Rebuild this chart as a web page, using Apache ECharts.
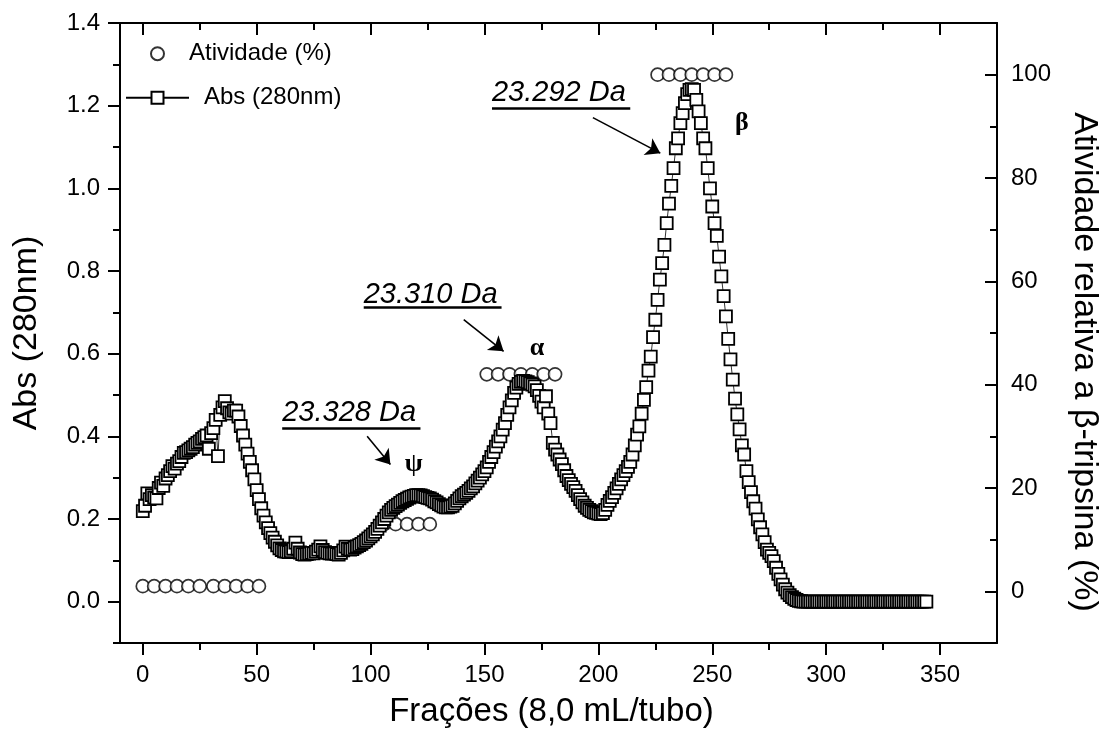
<!DOCTYPE html>
<html>
<head>
<meta charset="utf-8">
<script src="https://cdn.jsdelivr.net/npm/echarts@6/dist/echarts.min.js"></script>
<style>
  html, body { margin: 0; padding: 0; background: #fff; }
  #chart { width: 1104px; height: 737px; }
</style>
</head>
<body>
<div id="chart"></div>
<script>
// Absorbance at 280 nm, one reading per fraction (fraction number = index)
const absorbance = [
  0.219,0.232,0.262,0.248,0.258,0.252,0.250,0.275,0.288,0.280,
  0.298,0.306,0.316,0.328,0.322,0.334,0.340,0.350,0.360,0.362,
  0.366,0.370,0.374,0.380,0.384,0.388,0.394,0.398,0.402,0.370,
  0.408,0.420,0.440,0.352,0.452,0.470,0.485,0.468,0.458,0.455,
  0.462,0.462,0.448,0.425,0.402,0.380,0.358,0.338,0.318,0.296,
  0.270,0.248,0.226,0.208,0.192,0.178,0.166,0.155,0.145,0.136,
  0.129,0.125,0.122,0.121,0.120,0.122,0.128,0.143,0.128,0.119,
  0.115,0.114,0.115,0.116,0.118,0.117,0.121,0.126,0.134,0.125,
  0.120,0.118,0.117,0.116,0.117,0.115,0.114,0.118,0.124,0.133,
  0.128,0.126,0.127,0.131,0.134,0.137,0.140,0.144,0.148,0.153,
  0.158,0.163,0.169,0.176,0.184,0.192,0.200,0.208,0.216,0.222,
  0.227,0.231,0.235,0.239,0.243,0.246,0.249,0.252,0.254,0.256,
  0.258,0.258,0.257,0.255,0.253,0.251,0.250,0.247,0.243,0.240,
  0.236,0.233,0.230,0.228,0.228,0.230,0.232,0.238,0.244,0.250,
  0.255,0.259,0.263,0.268,0.274,0.279,0.286,0.293,0.300,0.308,
  0.316,0.325,0.338,0.350,0.362,0.375,0.388,0.400,0.416,0.432,
  0.452,0.470,0.487,0.505,0.518,0.527,0.532,0.534,0.533,0.531,
  0.528,0.525,0.521,0.512,0.498,0.484,0.470,0.497,0.455,0.432,
  0.384,0.368,0.356,0.344,0.333,0.318,0.304,0.294,0.285,0.277,
  0.268,0.258,0.248,0.240,0.232,0.227,0.222,0.219,0.216,0.215,
  0.213,0.212,0.214,0.222,0.234,0.244,0.253,0.263,0.274,0.285,
  0.296,0.306,0.316,0.326,0.338,0.356,0.378,0.404,0.424,0.455,
  0.488,0.519,0.559,0.593,0.640,0.682,0.730,0.779,0.819,0.863,
  0.916,0.963,1.006,1.049,1.097,1.121,1.158,1.182,1.206,1.228,
  1.238,1.240,1.238,1.214,1.186,1.158,1.121,1.097,1.049,1.000,
  0.956,0.916,0.885,0.835,0.787,0.739,0.690,0.636,0.586,0.537,
  0.491,0.453,0.417,0.378,0.356,0.316,0.289,0.265,0.243,0.225,
  0.199,0.180,0.163,0.144,0.126,0.118,0.110,0.098,0.082,0.067,
  0.054,0.041,0.030,0.022,0.016,0.011,0.007,0.004,0.002,0.001,
  0,0,0,0,0,0,0,0,0,0,
  0,0,0,0,0,0,0,0,0,0,
  0,0,0,0,0,0,0,0,0,0,
  0,0,0,0,0,0,0,0,0,0,
  0,0,0,0,0,0,0,0,0,0,
  0,0,0,0,0
];
const fractions = absorbance.map((_, i) => i);

// Relative trypsin activity (%) of the assayed fractions
const activityFractions = [0,5,10,15,20,25,31,36,41,46,51,
                           106,111,116,121,126,
                           151,156,161,166,171,176,181,
                           226,231,236,241,246,251,256];
const activityValues    = [1,1,1,1,1,1,1,1,1,1,1,
                           13,13,13,13,13,
                           42,42,42,42,42,42,42,
                           100,100,100,100,100,100,100];

// Axis ticks
const xMajorTicks = [0,50,100,150,200,250,300,350];
const xMinorTicks = [25,75,125,175,225,275,325];
const absMajorTicks = [0,0.2,0.4,0.6,0.8,1.0,1.2,1.4];
const absMinorTicks = [-0.1,0.1,0.3,0.5,0.7,0.9,1.1,1.3];
const actMajorTicks = [0,20,40,60,80,100];
const actMinorTicks = [10,30,50,70,90];

// Peak annotations: molecular mass, label anchor, underline and arrow (data units)
const massNotes = [
  { text: '23.328 Da', at: [61.2, 0.4575], line: [[61.2, 0.4205], [121.9, 0.4205]], arrow: [[98.5, 0.4002], [108.7, 0.3318]] },
  { text: '23.310 Da', at: [97.0, 0.7426], line: [[97.0, 0.7113], [157.5, 0.7113]], arrow: [[140.9, 0.6822], [158.4, 0.6056]] },
  { text: '23.292 Da', at: [153.3, 1.2300], line: [[153.3, 1.1938], [214.0, 1.1938]], arrow: [[197.6, 1.1711], [227.2, 1.0851]] }
];
const peakNames = [
  { text: 'ψ', at: [118.9, 0.332] },
  { text: 'α', at: [173.1, 0.614] },
  { text: 'β', at: [263.0, 1.158] }
];

const FONT = '"Liberation Sans", Arial, Helvetica, sans-serif';
const BLACK = '#000';
const X_MIN = -10, X_MAX = 375;
const ABS_MIN = -0.1, ABS_MAX = 1.4;
const ACT_MIN = -10, ACT_MAX = 110;

function tickAxis(base, ticks, len, inside, withLine) {
  return Object.assign({
    type: 'value',
    axisLine: { show: withLine, onZero: false, lineStyle: { color: BLACK, width: 2 } },
    axisTick: { show: true, inside: inside, length: len, customValues: ticks,
                lineStyle: { color: BLACK, width: 2 } },
    axisLabel: { show: false },
    splitLine: { show: false }
  }, base);
}

const labelStyle = { fontFamily: FONT, fontSize: 24, color: BLACK };

const xBottom = tickAxis({ position: 'bottom', min: X_MIN, max: X_MAX,
  name: 'Frações (8,0 mL/tubo)', nameLocation: 'middle', nameGap: 52,
  nameTextStyle: { fontFamily: FONT, fontSize: 33, color: BLACK, padding: [0, 14, 0, 0] } },
  xMajorTicks, 12, false, true);
xBottom.axisLabel = Object.assign({ show: true, customValues: xMajorTicks, margin: 20 }, labelStyle);

const yLeft = tickAxis({ position: 'left', min: ABS_MIN, max: ABS_MAX,
  name: 'Abs (280nm)', nameLocation: 'middle', nameGap: 76,
  nameTextStyle: { fontFamily: FONT, fontSize: 34, color: BLACK } },
  absMajorTicks, 12, false, true);
yLeft.axisLabel = Object.assign({ show: true, customValues: absMajorTicks, margin: 20,
  formatter: v => v.toFixed(1) }, labelStyle);

const yRight = tickAxis({ position: 'right', min: ACT_MIN, max: ACT_MAX,
  name: 'Atividade relativa a β-tripsina (%)', nameLocation: 'middle', nameGap: 70, nameRotate: -90,
  nameTextStyle: { fontFamily: FONT, fontSize: 34, color: BLACK, padding: [0, 0, 0, 58] } },
  actMajorTicks, 12, true, true);
yRight.axisLabel = Object.assign({ show: true, customValues: actMajorTicks, margin: 14 }, labelStyle);

const option = {
  backgroundColor: '#fff',
  animation: false,
  grid: { left: 120, right: 107, top: 23, bottom: 94, containLabel: false, outerBoundsMode: 'none' },
  legend: [
    { data: ['Atividade (%)'], left: 150, top: 41.7, padding: 0, itemWidth: 13, itemHeight: 13,
      selectedMode: false, textStyle: Object.assign({ padding: [0, 0, 0, 20] }, labelStyle) },
    { data: ['Abs (280nm)'], left: 125, top: 85.7, padding: 0, itemWidth: 63, itemHeight: 15,
      selectedMode: false, textStyle: Object.assign({ padding: [0, 0, 0, 10] }, labelStyle) }
  ],
  xAxis: [
    xBottom,
    tickAxis({ position: 'bottom', min: X_MIN, max: X_MAX }, xMinorTicks, 7, false, false),
    tickAxis({ position: 'top', min: X_MIN, max: X_MAX }, xMajorTicks, 12, true, true),
    tickAxis({ position: 'top', min: X_MIN, max: X_MAX }, xMinorTicks, 7, true, false)
  ],
  yAxis: [
    yLeft,
    tickAxis({ position: 'left', min: ABS_MIN, max: ABS_MAX }, absMinorTicks, 7, false, false),
    yRight,
    tickAxis({ position: 'right', min: ACT_MIN, max: ACT_MAX }, actMinorTicks, 7, true, false)
  ],
  series: [
    {
      name: 'Atividade (%)',
      type: 'scatter',
      xAxisIndex: 0, yAxisIndex: 2,
      data: activityFractions.map((f, i) => [f, activityValues[i]]),
      symbol: 'circle', symbolSize: 13,
      itemStyle: { color: '#fff', borderColor: BLACK, borderWidth: 1.7 },
      z: 2
    },
    {
      name: 'Abs (280nm)',
      type: 'line',
      xAxisIndex: 0, yAxisIndex: 0,
      data: fractions.map((f, i) => [f, absorbance[i]]),
      symbol: 'rect', symbolSize: 12, showSymbol: true,
      itemStyle: { color: '#fff', borderColor: BLACK, borderWidth: 1.8 },
      lineStyle: { color: BLACK, width: 0.8 },
      z: 3,
      markLine: {
        silent: true, animation: false,
        symbol: ['none', 'none'],
        label: { show: false },
        lineStyle: { color: BLACK, type: 'solid' },
        data: [].concat(
          massNotes.map(n => [
            { coord: n.line[0], lineStyle: { width: 2.6, color: BLACK, type: 'solid' } },
            { coord: n.line[1] }
          ]),
          massNotes.map(n => [
            { coord: n.arrow[0], symbol: 'none', lineStyle: { width: 1.6, color: BLACK, type: 'solid' } },
            { coord: n.arrow[1], symbol: 'arrow', symbolSize: 14 }
          ])
        )
      },
      markPoint: {
        silent: true, animation: false,
        symbol: 'circle', symbolSize: 0,
        itemStyle: { color: 'rgba(0,0,0,0)' },
        data: [].concat(
          massNotes.map(n => ({
            coord: n.at,
            label: { show: true, formatter: n.text, position: 'right', distance: 0,
                     fontFamily: FONT, fontStyle: 'italic', fontSize: 29, color: BLACK }
          })),
          peakNames.map(p => ({
            coord: p.at,
            label: { show: true, formatter: p.text, position: 'inside',
                     fontFamily: '"Liberation Serif", "DejaVu Serif", serif', fontWeight: 'bold',
                     fontSize: 26, color: BLACK }
          }))
        )
      }
    }
  ]
};

const chart = echarts.init(document.getElementById('chart'), null, { renderer: 'canvas' });
chart.setOption(option);
</script>
</body>
</html>
